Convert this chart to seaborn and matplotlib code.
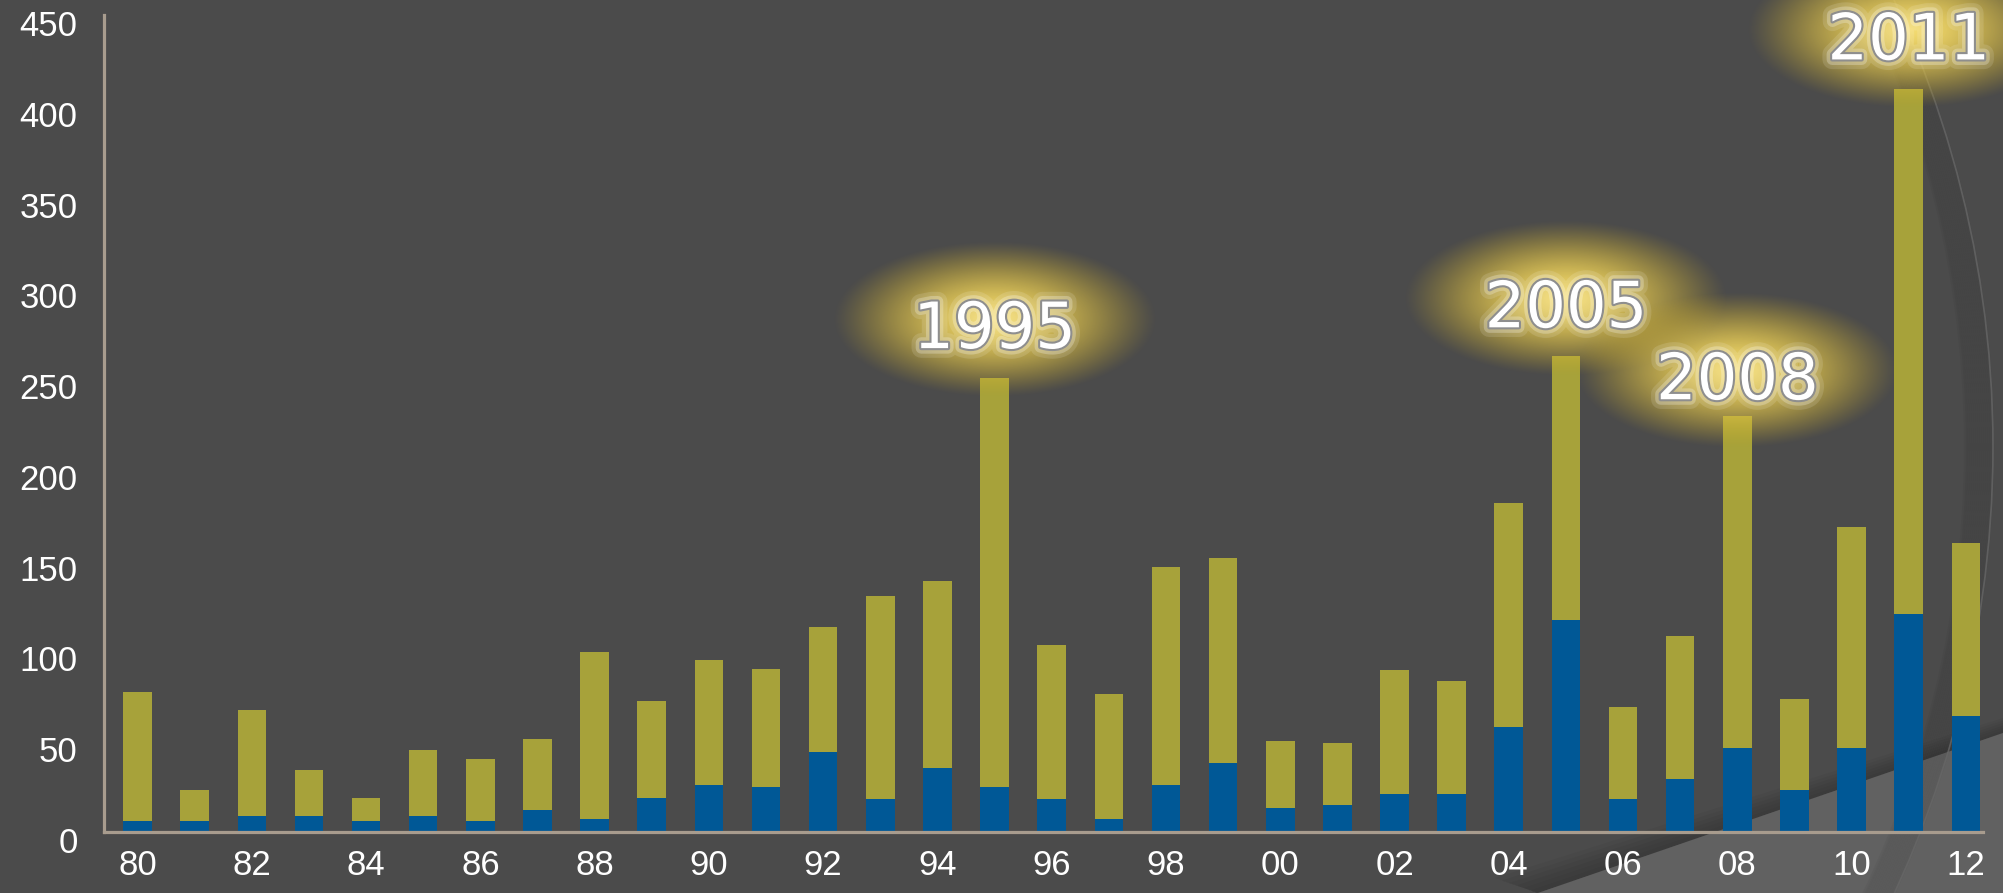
import numpy as np
import pandas as pd
import seaborn as sns
import matplotlib
matplotlib.use("Agg")
import matplotlib.pyplot as plt
from matplotlib import patheffects as pe
from matplotlib.patches import Polygon, Arc
from matplotlib.transforms import ScaledTranslation

# --- DATA ---
years = list(range(1980, 2013))
blue_part = [6, 6, 9, 9, 6, 9, 6, 12, 7, 19, 26, 25, 44, 18, 35, 25, 18,
             7, 26, 38, 13, 15, 21, 21, 58, 117, 18, 29, 46, 23, 46, 120, 64]
olive_part = [71, 17, 58, 25, 13, 36, 34, 39, 92, 53, 69, 65, 69, 112, 103, 225, 85,
              69, 120, 113, 37, 34, 68, 62, 123, 145, 51, 79, 183, 50, 122, 289, 95]
highlight_years = [1995, 2005, 2008, 2011]
y_ticks = list(range(0, 451, 50))

# --- STYLE ---
W, H = 2003, 893
BG = "#4b4b4b"
OLIVE = "#a7a23a"
BLUE = "#005896"
SPINE = "#a89c8e"
label_gap_px = [30, 29, 17, 30]   # baseline of highlight text above bar top

sns.set_theme(style="ticks", rc={"axes.facecolor": "none", "figure.facecolor": BG})
plt.rcParams["font.family"] = ["Liberation Sans", "DejaVu Sans"]

df = pd.DataFrame({"year": [str(y) for y in years], "blue": blue_part, "olive": olive_part})
df["total"] = df["blue"] + df["olive"]

fig = plt.figure(figsize=(W / 100, H / 100), dpi=100, facecolor=BG)

# background decoration layer (pixel coords, top-down)
bg = fig.add_axes([0, 0, 1, 1], zorder=0)
bg.set_xlim(0, W)
bg.set_ylim(H, 0)
bg.axis("off")
x0, y1 = 1538, 733
for k in range(1, 7):
    d = k * 2.5
    bg.add_patch(Polygon([(x0, H), (W, y1), (W, y1 - d), (x0 - d * 2.9, H - d)],
                         closed=True, fc="black", ec="none", alpha=0.03))
bg.add_patch(Polygon([(x0, H), (W, y1), (W, H)], closed=True, fc="#616161", ec="none"))
cx, cy, R = 934, 447, 1058
for k in range(14):
    r = R - k * 2
    bg.add_patch(Arc((cx, cy), 2 * r, 2 * r, theta1=-32, theta2=32,
                     color="black", alpha=0.03, lw=3))
bg.add_patch(Arc((cx, cy), 2 * R + 2, 2 * R + 2, theta1=-32, theta2=32,
                 color="#666666", alpha=0.8, lw=1.2))

# main chart
ax = fig.add_axes([104 / W, (H - 832) / H, (1983 - 104) / W, (832 - 15) / H], zorder=2)
ax.set_facecolor("none")
sns.barplot(data=df, x="year", y="total", color=OLIVE, saturation=1, width=0.5,
            errorbar=None, linewidth=0, ax=ax)
sns.barplot(data=df, x="year", y="blue", color=BLUE, saturation=1, width=0.5,
            errorbar=None, linewidth=0, ax=ax)

ax.set_xlim(-0.587, 32.3)
ax.set_ylim(0, 450)
ax.set_yticks(y_ticks)
ax.set_xticks(range(0, len(years), 2))
ax.set_xticklabels([f"{y % 100:02d}" for y in years[::2]])
ax.set_xlabel("")
ax.set_ylabel("")
for s in ["top", "right"]:
    ax.spines[s].set_visible(False)
for s in ["left", "bottom"]:
    ax.spines[s].set_color(SPINE)
    ax.spines[s].set_linewidth(2.3)
ax.tick_params(axis="both", length=0, labelcolor="white", labelsize=25)
ax.tick_params(axis="x", pad=12)
ax.tick_params(axis="y", pad=19)
shift = ScaledTranslation(0, -8 / 100, fig.dpi_scale_trans)
for t in ax.yaxis.get_major_ticks():
    t.label1.set_transform(t.label1.get_transform() + shift)

# glow highlights
ov = fig.add_axes([0, 0, 1, 1], zorder=3)
ov.set_facecolor("none")
ov.axis("off")

n = 300
yy, xx = np.mgrid[-1:1:n * 1j, -1:1:n * 1j]
rr = np.clip(np.sqrt(xx ** 2 + yy ** 2), 0, 1)
glow = np.zeros((n, n, 4))
inner = np.array([1.0, 0.90, 0.47])
outer = np.array([0.80, 0.67, 0.13])
for c in range(3):
    glow[..., c] = inner[c] * (1 - rr) + outer[c] * rr
glow[..., 3] = 0.95 * np.clip(1 - rr ** 2, 0, 1) ** 1.2

for yr, gap in zip(highlight_years, label_gap_px):
    i = years.index(yr)
    px, py = ax.transData.transform((i, df["total"][i]))
    top = H - py
    base = top - gap
    gcy = base - 29
    ov.imshow(glow, extent=(px - 162, px + 162, gcy + 78, gcy - 78), aspect="auto",
              interpolation="bilinear", zorder=1)
    ov.text(px, base, str(yr), ha="center", va="baseline", fontsize=46,
            family="DejaVu Sans", color="white", zorder=2,
            path_effects=[pe.withStroke(linewidth=14, foreground=(1, 1, 1, 0.12)),
                          pe.withStroke(linewidth=8, foreground=(1, 1, 1, 0.25)),
                          pe.withStroke(linewidth=3, foreground="#8e8e8e")])
ov.set_xlim(0, W)
ov.set_ylim(H, 0)

fig.savefig("out.png", dpi=100, facecolor=BG)
